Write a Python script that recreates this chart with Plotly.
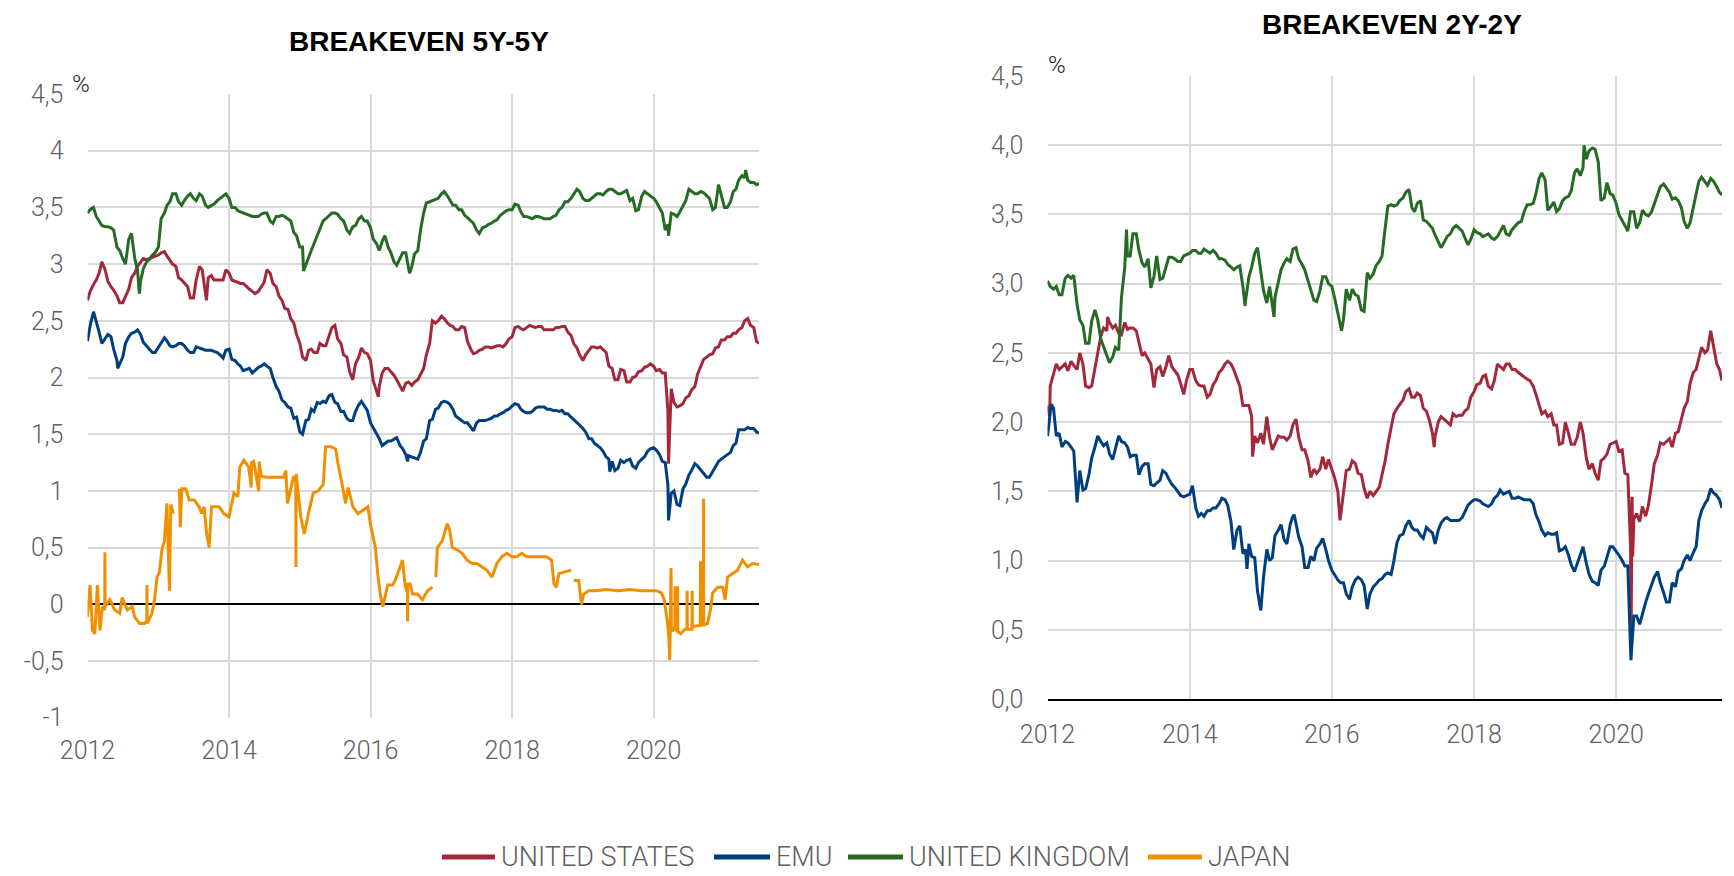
import plotly.graph_objects as go
import pandas as pd

# page body has an 8px margin: figure is sized/placed so it fills the 1734x876 window
WIN_W, WIN_H, OFF = 1734, 876, 8
W, H = WIN_W - OFF, WIN_H - OFF


def px(x):
    return (x - OFF) / W


def py(y):
    return 1 - (y - OFF) / H


series_names = ["UNITED STATES", "EMU", "UNITED KINGDOM", "JAPAN"]
series_colors = ["#A3283A", "#003F7F", "#256B24", "#F09000"]

# sampling grids: first of month (+ last observation) and mid-month
month_grid = list(pd.date_range("2012-01-01", "2021-06-01", freq="MS").strftime("%Y-%m-%d")) + ["2021-06-28"]
mid_grid = list((pd.date_range("2012-01-01", "2021-06-01", freq="MS") + pd.Timedelta(days=14)).strftime("%Y-%m-%d"))

year_ticks = ["2012-01-01", "2014-01-01", "2016-01-01", "2018-01-01", "2020-01-01"]
year_labels = ["2012", "2014", "2016", "2018", "2020"]

y55_ticks = [-1, -0.5, 0, 0.5, 1, 1.5, 2, 2.5, 3, 3.5, 4, 4.5]
y55_labels = ["-1", "-0,5", "0", "0,5", "1", "1,5", "2", "2,5", "3", "3,5", "4", "4,5"]
y22_ticks = [0, 0.5, 1, 1.5, 2, 2.5, 3, 3.5, 4, 4.5]
y22_labels = ["0,0", "0,5", "1,0", "1,5", "2,0", "2,5", "3,0", "3,5", "4,0", "4,5"]

# ---------------- BREAKEVEN 5Y-5Y ----------------
us55 = [2.68, 2.82, 2.92, 2.95, 2.80, 2.72, 2.66, 2.78, 2.92, 3.02,
        3.04, 3.06, 3.08, 3.11, 3.04, 2.98, 2.86, 2.80, 2.70, 2.98,
        2.75, 2.90, 2.86, 2.86, 2.92, 2.85, 2.83, 2.80, 2.76, 2.76,
        2.84, 2.92, 2.80, 2.68, 2.60, 2.48, 2.30, 2.15, 2.25, 2.22,
        2.28, 2.36, 2.46, 2.30, 2.18, 1.98, 2.18, 2.22, 2.15, 1.88,
        2.04, 2.08, 2.02, 1.92, 1.95, 1.93, 1.98, 2.08, 2.30, 2.48,
        2.54, 2.48, 2.45, 2.42, 2.44, 2.25, 2.22, 2.25, 2.27, 2.27,
        2.28, 2.30, 2.36, 2.45, 2.42, 2.46, 2.44, 2.45, 2.42, 2.42,
        2.44, 2.45, 2.37, 2.26, 2.15, 2.24, 2.27, 2.27, 2.22, 2.08,
        1.98, 2.06, 1.96, 2.01, 2.06, 2.10, 2.10, 2.07, 2.04, 1.90,
        1.74, 1.77, 1.84, 1.92, 2.10, 2.18, 2.21, 2.27, 2.33, 2.36,
        2.39, 2.44, 2.52, 2.44, 2.30]
us55_mid = [2.76, 2.86, 3.02, 2.85, 2.77, 2.66, 2.72, 2.88, 2.98, 3.05,
            3.05, 3.07, 3.10, 3.07, 3.00, 2.88, 2.83, 2.70, 2.86, 2.95,
            2.88, 2.86, 2.86, 2.95, 2.86, 2.84, 2.83, 2.78, 2.74, 2.80,
            2.95, 2.83, 2.72, 2.61, 2.52, 2.38, 2.18, 2.24, 2.22, 2.30,
            2.28, 2.44, 2.34, 2.20, 2.05, 2.12, 2.26, 2.21, 1.97, 1.92,
            2.08, 2.05, 1.98, 1.88, 1.96, 1.96, 2.03, 2.20, 2.50, 2.50,
            2.52, 2.46, 2.42, 2.45, 2.32, 2.21, 2.24, 2.27, 2.26, 2.28,
            2.27, 2.34, 2.44, 2.43, 2.44, 2.45, 2.45, 2.42, 2.42, 2.44,
            2.45, 2.40, 2.30, 2.20, 2.20, 2.27, 2.26, 2.25, 2.10, 1.98,
            2.07, 1.96, 2.00, 2.05, 2.09, 2.12, 2.06, 2.04, 1.70, 1.78,
            1.75, 1.82, 1.89, 2.03, 2.16, 2.20, 2.26, 2.33, 2.36, 2.39,
            2.42, 2.50, 2.46, 2.32]
us55_extra_dates = ["2013-09-06", "2016-02-10", "2020-03-18"]
us55_extra_vals = [2.68, 1.83, 1.24]

emu55 = [2.32, 2.58, 2.40, 2.34, 2.36, 2.15, 2.18, 2.36, 2.40, 2.38,
         2.28, 2.22, 2.27, 2.35, 2.28, 2.28, 2.30, 2.24, 2.22, 2.26,
         2.24, 2.24, 2.22, 2.17, 2.25, 2.15, 2.10, 2.07, 2.04, 2.09,
         2.12, 2.08, 1.92, 1.80, 1.74, 1.64, 1.52, 1.62, 1.72, 1.78,
         1.79, 1.84, 1.78, 1.70, 1.64, 1.62, 1.76, 1.74, 1.60, 1.50,
         1.40, 1.44, 1.46, 1.40, 1.32, 1.30, 1.28, 1.44, 1.62, 1.72,
         1.78, 1.78, 1.72, 1.64, 1.60, 1.56, 1.60, 1.62, 1.63, 1.66,
         1.68, 1.71, 1.75, 1.76, 1.70, 1.69, 1.73, 1.74, 1.72, 1.71,
         1.70, 1.68, 1.65, 1.60, 1.55, 1.46, 1.42, 1.38, 1.30, 1.26,
         1.20, 1.25, 1.28, 1.20, 1.28, 1.35, 1.38, 1.32, 1.25, 0.98,
         0.88, 1.02, 1.14, 1.24, 1.18, 1.12, 1.17, 1.26, 1.30, 1.34,
         1.42, 1.54, 1.56, 1.55, 1.51]
emu55_mid = [2.46, 2.50, 2.30, 2.38, 2.25, 2.12, 2.30, 2.39, 2.42, 2.31,
             2.25, 2.22, 2.31, 2.32, 2.27, 2.30, 2.28, 2.22, 2.27, 2.25,
             2.24, 2.23, 2.20, 2.24, 2.16, 2.12, 2.06, 2.08, 2.06, 2.10,
             2.10, 2.00, 1.88, 1.78, 1.73, 1.65, 1.50, 1.63, 1.70, 1.77,
             1.78, 1.85, 1.77, 1.70, 1.62, 1.70, 1.79, 1.71, 1.56, 1.46,
             1.42, 1.44, 1.47, 1.37, 1.31, 1.29, 1.34, 1.46, 1.63, 1.73,
             1.79, 1.76, 1.66, 1.62, 1.60, 1.53, 1.62, 1.62, 1.64, 1.66,
             1.69, 1.72, 1.77, 1.72, 1.69, 1.70, 1.74, 1.74, 1.72, 1.71,
             1.71, 1.68, 1.63, 1.58, 1.52, 1.46, 1.40, 1.35, 1.28, 1.18,
             1.27, 1.27, 1.22, 1.25, 1.30, 1.37, 1.36, 1.26, 1.05, 1.00,
             0.87, 1.06, 1.18, 1.22, 1.15, 1.12, 1.20, 1.28, 1.32, 1.40,
             1.54, 1.54, 1.55, 1.52]
emu55_extra_dates = ["2012-06-05", "2016-07-10", "2019-05-20", "2020-03-18"]
emu55_extra_vals = [2.08, 1.26, 1.17, 0.74]

uk55 = [3.45, 3.50, 3.38, 3.33, 3.32, 3.15, 3.05, 3.22, 3.05, 2.85,
        3.02, 3.08, 3.15, 3.45, 3.55, 3.62, 3.52, 3.60, 3.58, 3.62,
        3.52, 3.52, 3.56, 3.60, 3.58, 3.50, 3.46, 3.44, 3.42, 3.42,
        3.45, 3.38, 3.42, 3.43, 3.40, 3.28, 3.15, 3.00, 3.12, 3.25,
        3.38, 3.43, 3.45, 3.40, 3.30, 3.33, 3.40, 3.38, 3.32, 3.18,
        3.20, 3.15, 3.02, 3.05, 3.10, 2.98, 3.12, 3.45, 3.55, 3.57,
        3.62, 3.60, 3.52, 3.48, 3.43, 3.38, 3.30, 3.32, 3.35, 3.38,
        3.43, 3.47, 3.48, 3.52, 3.42, 3.41, 3.42, 3.41, 3.40, 3.42,
        3.48, 3.55, 3.58, 3.66, 3.58, 3.56, 3.60, 3.62, 3.64, 3.66,
        3.62, 3.64, 3.56, 3.47, 3.60, 3.62, 3.58, 3.50, 3.30, 3.45,
        3.42, 3.52, 3.66, 3.62, 3.64, 3.60, 3.48, 3.70, 3.50, 3.55,
        3.66, 3.78, 3.74, 3.72, 3.71]
uk55_mid = [3.48, 3.42, 3.34, 3.33, 3.30, 3.12, 3.00, 3.27, 2.95, 2.96,
            3.04, 3.10, 3.40, 3.52, 3.62, 3.55, 3.56, 3.62, 3.56, 3.60,
            3.50, 3.53, 3.58, 3.62, 3.50, 3.47, 3.45, 3.43, 3.42, 3.44,
            3.45, 3.36, 3.42, 3.42, 3.38, 3.25, 3.15, 3.05, 3.18, 3.30,
            3.40, 3.45, 3.44, 3.38, 3.27, 3.34, 3.42, 3.38, 3.22, 3.12,
            3.25, 3.10, 2.99, 3.10, 2.95, 3.09, 3.30, 3.54, 3.56, 3.58,
            3.64, 3.56, 3.52, 3.48, 3.41, 3.36, 3.27, 3.33, 3.36, 3.39,
            3.45, 3.48, 3.53, 3.46, 3.42, 3.40, 3.42, 3.40, 3.40, 3.43,
            3.50, 3.55, 3.62, 3.64, 3.56, 3.58, 3.62, 3.61, 3.66, 3.64,
            3.62, 3.65, 3.58, 3.48, 3.64, 3.60, 3.55, 3.45, 3.35, 3.44,
            3.46, 3.56, 3.64, 3.62, 3.63, 3.58, 3.50, 3.60, 3.50, 3.64,
            3.74, 3.76, 3.72, 3.70]
uk55_extra_dates = ["2012-09-25", "2015-01-20", "2016-07-20", "2020-03-18", "2021-04-20"]
uk55_extra_vals = [2.74, 2.94, 2.92, 3.25, 3.83]

jp55_dates = ["2012-01-01", "2012-01-14", "2012-01-27", "2012-02-08", "2012-02-21", "2012-03-05",
              "2012-03-18", "2012-03-30", "2012-03-31", "2012-04-01", "2012-04-25", "2012-05-21",
              "2012-06-15", "2012-06-28", "2012-07-24", "2012-08-19", "2012-08-31", "2012-09-26",
              "2012-10-22", "2012-11-02", "2012-11-03", "2012-11-04", "2012-11-29", "2012-12-12",
              "2012-12-25", "2013-01-06", "2013-01-19", "2013-02-01", "2013-02-14", "2013-02-27",
              "2013-03-06", "2013-03-19", "2013-03-29", "2013-04-19", "2013-04-24", "2013-05-02",
              "2013-05-22", "2013-06-09", "2013-07-05", "2013-07-30", "2013-08-12", "2013-08-25",
              "2013-09-07", "2013-09-20", "2013-10-02", "2013-11-10", "2013-12-05", "2013-12-31",
              "2014-01-26", "2014-02-15", "2014-02-25", "2014-03-18", "2014-04-12", "2014-04-25",
              "2014-04-27", "2014-05-08", "2014-06-03", "2014-06-05", "2014-06-15", "2014-07-11",
              "2014-08-19", "2014-10-09", "2014-10-21", "2014-10-29", "2014-11-29", "2014-12-11",
              "2014-12-12", "2014-12-13", "2015-01-06", "2015-01-24", "2015-02-14", "2015-03-11",
              "2015-04-06", "2015-05-02", "2015-05-14", "2015-06-09", "2015-07-05", "2015-07-17",
              "2015-08-07", "2015-08-25", "2015-09-07", "2015-10-02", "2015-10-28", "2015-11-23",
              "2015-12-18", "2015-12-31", "2016-01-26", "2016-02-07", "2016-02-20", "2016-03-04",
              "2016-03-30", "2016-04-24", "2016-05-07", "2016-05-20", "2016-06-14", "2016-06-27",
              "2016-07-09", "2016-07-10", "2016-07-11", "2016-07-23", "2016-08-05", "2016-08-30",
              "2016-09-25", "2016-10-21", "2016-11-15", "2016-11-22", "2016-12-03", "2016-12-11",
              "2017-01-05", "2017-01-31", "2017-02-13", "2017-02-26", "2017-03-23", "2017-04-18",
              "2017-05-13", "2017-06-08", "2017-07-04", "2017-07-29", "2017-08-24", "2017-09-19",
              "2017-10-14", "2017-11-09", "2017-12-04", "2017-12-30", "2018-01-25", "2018-02-19",
              "2018-03-17", "2018-04-11", "2018-05-07", "2018-06-02", "2018-06-27", "2018-07-23",
              "2018-08-05", "2018-08-17", "2018-08-30", "2018-10-08", "2018-11-02", "2018-11-08",
              "2018-11-15", "2018-12-11", "2018-12-24", "2019-01-05", "2019-01-31", "2019-03-10",
              "2019-05-01", "2019-07-01", "2019-09-01", "2019-11-01", "2020-01-15", "2020-02-10",
              "2020-02-25", "2020-03-05", "2020-03-12", "2020-03-20", "2020-03-24", "2020-03-27",
              "2020-03-31", "2020-04-02", "2020-04-10", "2020-04-20", "2020-04-21", "2020-04-22",
              "2020-05-03", "2020-05-04", "2020-05-05", "2020-05-20", "2020-06-10", "2020-06-21",
              "2020-06-22", "2020-06-23", "2020-07-17", "2020-07-18", "2020-07-19", "2020-08-10",
              "2020-08-29", "2020-08-30", "2020-08-31", "2020-09-14", "2020-09-15", "2020-09-16",
              "2020-10-05", "2020-10-20", "2020-11-01", "2020-11-27", "2020-12-23", "2021-01-04",
              "2021-01-17", "2021-02-12", "2021-03-09", "2021-04-04", "2021-04-30", "2021-05-25",
              "2021-06-28"]
jp55 = [-0.11, 0.17, -0.23, -0.26, 0.17, -0.23,
        -0.02, -0.05, 0.46, -0.02, 0.04, -0.05,
        -0.08, 0.06, -0.05, -0.02, -0.11, -0.17,
        -0.17, -0.15, 0.17, -0.17, -0.08, 0.04,
        0.24, 0.28, 0.48, 0.56, 0.89, 0.12,
        0.88, 0.80, None, 1.02, 0.68, 1.02,
        1.02, 0.92, 0.92, 0.86, 0.80, 0.86,
        0.62, 0.50, 0.86, 0.86, 0.80, 0.77,
        0.98, 0.95, 1.21, 1.27, 1.21, 1.03,
        1.25, 1.26, 1.00, 1.26, 1.13, 1.12,
        1.12, 1.12, 1.18, 0.89, 1.12, 1.12,
        0.33, 1.15, 0.77, 0.62, 0.80, 0.98,
        1.00, 1.06, 1.39, 1.39, 1.37, 1.24,
        1.06, 0.89, 1.03, 0.86, 0.80, 0.83,
        0.86, 0.71, 0.50, 0.27, 0.09, -0.02,
        0.17, 0.17, 0.21, 0.27, 0.39, 0.17,
        0.10, -0.15, 0.18, 0.18, 0.09, 0.09,
        0.04, 0.12, 0.15, None, 0.24, 0.50,
        0.56, 0.71, 0.65, 0.50, 0.48, 0.45,
        0.39, 0.36, 0.36, 0.33, 0.30, 0.24,
        0.36, 0.42, 0.45, 0.42, 0.42, 0.45,
        0.42, 0.42, 0.42, 0.42, 0.42, 0.39,
        0.18, 0.15, 0.27, 0.29, 0.30, None,
        0.21, 0.21, 0.00, 0.09, 0.12, 0.12,
        0.13, 0.12, 0.13, 0.12, 0.12, 0.10,
        0.04, -0.05, -0.15, -0.30, -0.49, -0.22,
        0.32, -0.22, -0.23, -0.20, 0.16, -0.22,
        -0.24, 0.16, -0.24, -0.26, -0.22, -0.22,
        0.12, -0.22, -0.22, 0.12, -0.20, -0.19,
        -0.19, 0.38, -0.18, -0.18, 0.93, -0.18,
        -0.17, -0.05, 0.10, 0.15, 0.15, 0.04,
        0.24, 0.27, 0.30, 0.39, 0.33, 0.36,
        0.35]

# ---------------- BREAKEVEN 2Y-2Y ----------------
us22 = [2.12, 2.35, 2.38, 2.42, 2.44, 2.38, 2.42, 2.25, 2.40, 2.62,
        2.66, 2.68, 2.64, 2.72, 2.68, 2.66, 2.48, 2.46, 2.25, 2.40,
        2.40, 2.40, 2.34, 2.20, 2.38, 2.30, 2.26, 2.18, 2.27, 2.36,
        2.42, 2.42, 2.32, 2.12, 2.12, 1.90, 1.92, 2.04, 1.80, 1.90,
        1.89, 1.90, 2.02, 1.80, 1.72, 1.66, 1.66, 1.66, 1.66, 1.50,
        1.50, 1.66, 1.70, 1.62, 1.45, 1.47, 1.53, 1.72, 1.97, 2.10,
        2.16, 2.24, 2.18, 2.19, 2.08, 1.92, 2.00, 2.02, 1.98, 2.04,
        2.05, 2.10, 2.22, 2.28, 2.34, 2.24, 2.42, 2.38, 2.42, 2.38,
        2.34, 2.31, 2.26, 2.12, 2.08, 2.06, 1.98, 1.85, 1.92, 1.84,
        2.00, 1.74, 1.70, 1.58, 1.74, 1.84, 1.86, 1.80, 1.62, 1.30,
        1.28, 1.32, 1.55, 1.76, 1.84, 1.88, 1.92, 2.02, 2.15, 2.36,
        2.46, 2.50, 2.66, 2.42, 2.30]
us22_mid = [2.26, 2.42, 2.40, 2.37, 2.41, 2.50, 2.26, 2.26, 2.50, 2.68,
            2.72, 2.70, 2.63, 2.67, 2.68, 2.58, 2.50, 2.42, 2.38, 2.33,
            2.48, 2.37, 2.28, 2.30, 2.38, 2.27, 2.26, 2.20, 2.30, 2.38,
            2.44, 2.38, 2.26, 2.12, 2.04, 1.85, 1.84, 1.89, 1.85, 1.89,
            1.87, 1.98, 1.89, 1.80, 1.60, 1.63, 1.75, 1.73, 1.60, 1.32,
            1.65, 1.72, 1.63, 1.52, 1.50, 1.50, 1.62, 1.84, 2.06, 2.13,
            2.22, 2.18, 2.21, 2.10, 2.02, 1.90, 2.04, 2.00, 2.06, 2.05,
            2.08, 2.18, 2.27, 2.33, 2.26, 2.30, 2.40, 2.42, 2.38, 2.36,
            2.33, 2.30, 2.20, 2.06, 2.04, 1.98, 1.84, 2.00, 1.84, 1.89,
            1.92, 1.66, 1.63, 1.72, 1.77, 1.85, 1.79, 1.63, 1.10, 1.34,
            1.39, 1.40, 1.70, 1.85, 1.86, 1.82, 1.93, 2.10, 2.28, 2.38,
            2.54, 2.52, 2.55, 2.38]
us22_extra_dates = ["2012-01-12", "2012-11-05", "2014-11-20", "2016-02-12", "2017-06-10",
                    "2020-03-18", "2020-03-23", "2020-03-26"]
us22_extra_vals = [2.04, 2.76, 1.75, 1.29, 1.82,
                   0.50, 1.46, 1.03]

emu22 = [1.90, 2.10, 1.92, 1.86, 1.82, 1.42, 1.51, 1.62, 1.82, 1.86,
         1.85, 1.73, 1.90, 1.85, 1.75, 1.76, 1.68, 1.70, 1.54, 1.58,
         1.63, 1.55, 1.50, 1.46, 1.48, 1.38, 1.34, 1.36, 1.38, 1.41,
         1.44, 1.28, 1.22, 1.05, 1.12, 1.02, 0.64, 1.08, 1.02, 1.22,
         1.15, 1.26, 1.26, 1.10, 0.95, 1.00, 1.12, 1.08, 0.93, 0.86,
         0.84, 0.72, 0.86, 0.86, 0.65, 0.81, 0.86, 0.90, 0.90, 1.13,
         1.19, 1.29, 1.22, 1.18, 1.24, 1.20, 1.22, 1.30, 1.29, 1.29,
         1.31, 1.40, 1.44, 1.43, 1.40, 1.41, 1.47, 1.48, 1.50, 1.45,
         1.45, 1.44, 1.41, 1.28, 1.18, 1.19, 1.20, 1.08, 1.04, 0.92,
         1.05, 0.98, 0.85, 0.82, 0.96, 1.10, 1.07, 1.00, 0.96, 0.60,
         0.54, 0.70, 0.82, 0.92, 0.77, 0.70, 0.81, 0.94, 1.04, 1.06,
         1.29, 1.41, 1.52, 1.47, 1.38]
emu22_mid = [2.06, 1.90, 1.82, 1.85, 1.79, 1.65, 1.52, 1.74, 1.90, 1.83,
             1.77, 1.80, 1.86, 1.82, 1.76, 1.62, 1.70, 1.55, 1.56, 1.65,
             1.59, 1.53, 1.47, 1.47, 1.54, 1.32, 1.32, 1.36, 1.38, 1.45,
             1.40, 1.08, 1.25, 1.08, 1.03, 0.78, 0.88, 1.00, 1.18, 1.26,
             1.12, 1.32, 1.17, 0.95, 1.03, 1.09, 1.16, 1.00, 0.90, 0.84,
             0.76, 0.81, 0.88, 0.82, 0.76, 0.83, 0.87, 0.91, 1.00, 1.18,
             1.25, 1.24, 1.22, 1.16, 1.22, 1.12, 1.27, 1.31, 1.29, 1.29,
             1.35, 1.42, 1.44, 1.41, 1.39, 1.45, 1.51, 1.49, 1.45, 1.46,
             1.44, 1.44, 1.33, 1.22, 1.20, 1.19, 1.07, 1.10, 0.97, 0.98,
             1.10, 0.90, 0.84, 0.93, 1.03, 1.10, 1.04, 0.96, 0.45, 0.60,
             0.62, 0.76, 0.88, 0.84, 0.70, 0.84, 0.92, 1.00, 1.00, 1.10,
             1.36, 1.44, 1.49, 1.44]
emu22_extra_dates = ["2012-01-20", "2014-10-22", "2015-06-22", "2020-03-17"]
emu22_extra_vals = [2.13, 0.94, 1.33, 0.28]

uk22 = [3.02, 2.96, 2.92, 3.04, 3.04, 2.85, 2.70, 2.57, 2.81, 2.60,
        2.48, 2.47, 2.52, 3.12, 3.20, 3.36, 3.15, 3.18, 3.05, 3.03,
        3.12, 3.19, 3.16, 3.20, 3.22, 3.24, 3.22, 3.23, 3.24, 3.18,
        3.17, 3.12, 3.12, 2.98, 3.05, 3.22, 3.08, 2.86, 2.85, 3.02,
        3.15, 3.16, 3.26, 3.14, 3.02, 2.88, 2.95, 3.05, 2.98, 2.78,
        2.74, 2.88, 2.92, 2.81, 3.08, 3.07, 3.16, 3.40, 3.57, 3.57,
        3.62, 3.68, 3.52, 3.60, 3.45, 3.40, 3.30, 3.30, 3.36, 3.42,
        3.38, 3.28, 3.39, 3.36, 3.35, 3.33, 3.34, 3.42, 3.35, 3.42,
        3.45, 3.57, 3.58, 3.76, 3.75, 3.56, 3.52, 3.60, 3.63, 3.80,
        3.78, 3.90, 3.98, 3.88, 3.62, 3.65, 3.58, 3.46, 3.38, 3.52,
        3.44, 3.50, 3.52, 3.65, 3.72, 3.66, 3.62, 3.55, 3.40, 3.55,
        3.74, 3.74, 3.76, 3.70, 3.64]
uk22_mid = [2.98, 2.98, 2.92, 3.06, 3.06, 2.74, 2.57, 2.73, 2.74, 2.54,
            2.43, 2.54, 2.90, 3.20, 3.36, 3.24, 3.12, 2.97, 3.20, 3.04,
            3.19, 3.18, 3.16, 3.21, 3.24, 3.22, 3.25, 3.22, 3.22, 3.18,
            3.14, 3.10, 3.13, 2.88, 3.12, 3.26, 2.95, 2.98, 2.90, 3.10,
            3.18, 3.25, 3.18, 3.10, 2.95, 2.87, 3.05, 3.00, 2.90, 2.69,
            2.96, 2.96, 2.91, 2.80, 3.04, 3.13, 3.20, 3.56, 3.56, 3.60,
            3.66, 3.55, 3.58, 3.46, 3.43, 3.35, 3.26, 3.34, 3.40, 3.40,
            3.33, 3.32, 3.37, 3.34, 3.36, 3.32, 3.38, 3.36, 3.39, 3.44,
            3.52, 3.57, 3.65, 3.80, 3.53, 3.59, 3.54, 3.62, 3.67, 3.83,
            3.84, 3.96, 3.97, 3.60, 3.73, 3.64, 3.50, 3.42, 3.52, 3.40,
            3.53, 3.49, 3.58, 3.70, 3.69, 3.61, 3.60, 3.45, 3.44, 3.66,
            3.77, 3.71, 3.74, 3.66]
uk22_extra_dates = ["2013-02-10", "2014-10-12", "2015-03-10", "2016-02-20", "2019-07-20"]
uk22_extra_vals = [3.39, 2.84, 2.76, 2.66, 4.00]


def merge(vals, mids, ex_d, ex_v):
    pts = sorted(zip(month_grid + mid_grid + ex_d, vals + mids + ex_v), key=lambda p: p[0])
    return [p[0] for p in pts], [p[1] for p in pts]


left_series = [
    merge(us55, us55_mid, us55_extra_dates, us55_extra_vals),
    merge(emu55, emu55_mid, emu55_extra_dates, emu55_extra_vals),
    merge(uk55, uk55_mid, uk55_extra_dates, uk55_extra_vals),
    (jp55_dates, jp55),
]
right_series = [
    merge(us22, us22_mid, us22_extra_dates, us22_extra_vals),
    merge(emu22, emu22_mid, emu22_extra_dates, emu22_extra_vals),
    merge(uk22, uk22_mid, uk22_extra_dates, uk22_extra_vals),
]

fig = go.Figure()
for (xd, yv), name, col in zip(left_series, series_names, series_colors):
    fig.add_trace(go.Scatter(x=xd, y=yv, mode="lines", name=name, showlegend=False,
                             line=dict(color=col, width=3), xaxis="x", yaxis="y"))
for (xd, yv), name, col in zip(right_series, series_names, series_colors):
    fig.add_trace(go.Scatter(x=xd, y=yv, mode="lines", name=name, showlegend=False,
                             line=dict(color=col, width=3), xaxis="x2", yaxis="y2"))

FONT = "Roboto"
tick_font = dict(family=FONT, size=25, color="#5f5f5f", weight=300)
grid_col = "#d9d9d9"
x_common = dict(type="date", range=["2012-01-01", "2021-06-28"], tickvals=year_ticks, ticktext=year_labels,
                showgrid=True, gridcolor=grid_col, gridwidth=1.5, zeroline=False, ticks="",
                tickfont=tick_font, fixedrange=True, automargin=False)
y_common = dict(showgrid=True, gridcolor=grid_col, gridwidth=1.5, ticks="", tickfont=tick_font,
                ticklabelstandoff=23, showline=False, automargin=False, fixedrange=True)

fig.update_layout(
    width=W, height=H, margin=dict(l=0, r=0, t=0, b=0, autoexpand=False),
    paper_bgcolor="white", plot_bgcolor="white", showlegend=False,
    xaxis=dict(domain=[px(87.5), px(759)], anchor="y", showline=False, ticklabelstandoff=15, **x_common),
    yaxis=dict(domain=[py(717.7), py(94)], anchor="x", range=[-1, 4.5],
               tickvals=y55_ticks, ticktext=y55_labels,
               zeroline=True, zerolinecolor="black", zerolinewidth=2, **y_common),
    xaxis2=dict(domain=[px(1047.5), px(1722)], anchor="y2", showline=True, linecolor="black", linewidth=2,
                ticklabelstandoff=12, **x_common),
    yaxis2=dict(domain=[py(699), py(76)], anchor="x2", range=[0, 4.5],
                tickvals=y22_ticks, ticktext=y22_labels, zeroline=False, **y_common),
)

title_font = dict(family="Liberation Sans", size=28, color="black", weight="bold")
pct_font = dict(family=FONT, size=24, color="#222222", weight=300)
annotations = [
    dict(text="BREAKEVEN 5Y-5Y", x=px(419), y=py(41), xref="paper", yref="paper",
         showarrow=False, xanchor="center", yanchor="middle", font=title_font),
    dict(text="BREAKEVEN 2Y-2Y", x=px(1392), y=py(24), xref="paper", yref="paper",
         showarrow=False, xanchor="center", yanchor="middle", font=title_font),
    dict(text="%", x=px(81), y=py(84), xref="paper", yref="paper", showarrow=False,
         xanchor="center", yanchor="middle", font=pct_font),
    dict(text="%", x=px(1057), y=py(65), xref="paper", yref="paper", showarrow=False,
         xanchor="center", yanchor="middle", font=pct_font),
]

# custom legend (swatch + label) at the bottom
legend_swatch_x = [(442, 495), (714, 770), (848, 903), (1148, 1202)]
legend_y = py(857)
shapes = []
for (x0, x1), name, col in zip(legend_swatch_x, series_names, series_colors):
    shapes.append(dict(type="line", xref="paper", yref="paper", x0=px(x0), x1=px(x1),
                       y0=legend_y, y1=legend_y, line=dict(color=col, width=5)))
    annotations.append(dict(text=name, x=px(x1 + 4), y=legend_y, xref="paper", yref="paper",
                            showarrow=False, xanchor="left", yanchor="middle",
                            font=dict(family=FONT, size=27, color="#5f5f5f", weight=300)))

fig.update_layout(annotations=annotations, shapes=shapes)
fig.write_html("out.html")
